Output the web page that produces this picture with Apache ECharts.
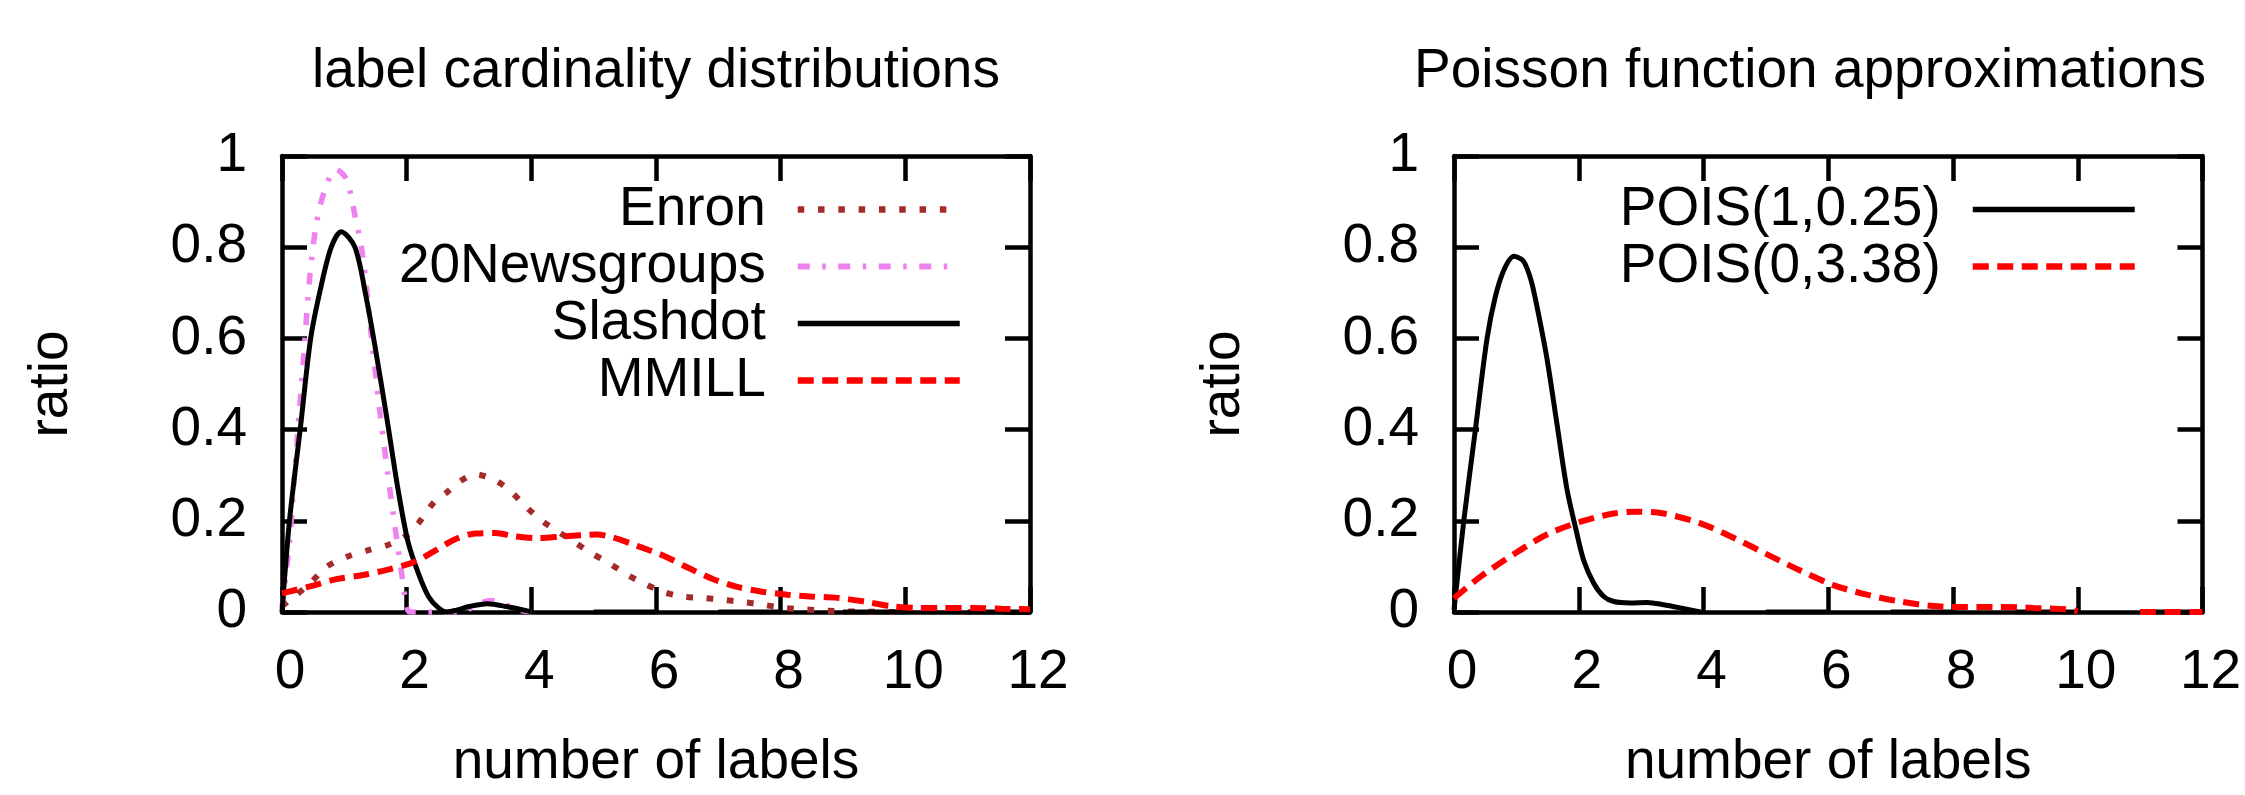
<!DOCTYPE html>
<html>
<head>
<meta charset="utf-8">
<script src="https://cdn.jsdelivr.net/npm/echarts@6/dist/echarts.min.js"></script>
<style>
  html, body { margin: 0; padding: 0; background: #fff; }
  #chart { width: 2245px; height: 795px; }
</style>
</head>
<body>
<div id="chart"></div>
<script>
// values, null = no line drawn there
const enronX = [0, 0.17, 0.46, 0.7, 1.04, 1.37, 1.72, 2.0, 2.19, 2.44, 2.65, 2.85, 3.1, 3.43, 3.68, 3.92, 4.17, 4.42, 4.68, 4.95, 5.24, 5.51, 5.8, 6.1, 6.42, 6.74, 7.06, 7.38, 7.71, 8.05, 8.37, 8.7, 9.2, 10]
const enronY = [0.013, 0.031, 0.064, 0.098, 0.121, 0.135, 0.148, 0.168, 0.195, 0.241, 0.263, 0.286, 0.302, 0.288, 0.263, 0.23, 0.2, 0.177, 0.154, 0.13, 0.108, 0.084, 0.063, 0.045, 0.034, 0.031, 0.027, 0.022, 0.016, 0.009, 0.006, 0.003, 0.001, 0]

const newsX = [0, 0.12, 0.2, 0.28, 0.36, 0.44, 0.55, 0.69, 0.87, 1.03, 1.17, 1.3, 1.43, 1.57, 1.7, 1.81, 1.92, 2.0, 2.05, 2.9, 3.1, 3.35, 3.6, 3.8, 4.0]
const newsY = [0.01, 0.155, 0.3, 0.44, 0.584, 0.727, 0.85, 0.927, 0.97, 0.95, 0.87, 0.777, 0.61, 0.44, 0.3, 0.19, 0.084, 0.013, 0, 0, 0.015, 0.025, 0.015, 0.004, 0]

const slashX = [0, 0.12, 0.3, 0.46, 0.62, 0.79, 0.95, 1.17, 1.35, 1.49, 1.68, 1.86, 2.02, 2.19, 2.35, 2.51, 2.65, 2.8, 3.0, 3.3, 3.6, 3.95, 4.0, 4.5, 5, 6, 6.5, 7, 8, 8.5, 9, 10, 10.5, 11, 12]
const slashY = [0, 0.2, 0.41, 0.6, 0.71, 0.8, 0.834, 0.8, 0.69, 0.584, 0.427, 0.27, 0.155, 0.084, 0.034, 0.009, 0, 0.004, 0.012, 0.018, 0.012, 0.002, 0, null, 0, 0, null, 0, 0, null, 0, 0, null, 0, 0]

const mmillX = [0, 0.5, 0.87, 1.3, 1.7, 2.11, 2.45, 2.77, 3.1, 3.42, 3.74, 4.12, 4.52, 5.05, 5.32, 5.7, 6.13, 6.5, 6.9, 7.3, 7.68, 8.11, 8.48, 8.91, 9.34, 9.77, 10.2, 10.62, 11.1, 11.54, 12]
const mmillY = [0.041, 0.058, 0.072, 0.081, 0.093, 0.109, 0.134, 0.159, 0.172, 0.173, 0.166, 0.162, 0.166, 0.17, 0.163, 0.145, 0.123, 0.098, 0.073, 0.055, 0.045, 0.038, 0.034, 0.031, 0.023, 0.013, 0.009, 0.009, 0.009, 0.007, 0.006]

const pois1X = [0, 0.157, 0.343, 0.53, 0.66, 0.8, 0.96, 1.11, 1.23, 1.33, 1.49, 1.65, 1.81, 1.95, 2.08, 2.24, 2.4, 2.56, 2.83, 3.1, 3.36, 3.63, 3.95, 4.5, 5, 6, 6.5, 7, 8, 8.5, 9, 10, 10.5, 11, 12]
const pois1Y = [0.005, 0.2, 0.4, 0.6, 0.69, 0.75, 0.78, 0.77, 0.73, 0.67, 0.556, 0.413, 0.27, 0.184, 0.113, 0.063, 0.034, 0.023, 0.02, 0.021, 0.016, 0.009, 0, null, 0, 0, null, 0, 0, null, 0, 0, null, 0, 0]

const pois2X = [0, 0.42, 0.96, 1.49, 2.03, 2.56, 2.93, 3.36, 3.94, 4.48, 5.01, 5.55, 6.08, 6.62, 7.15, 7.68, 8.22, 8.75, 9.29, 9.82, 10.0, 10.5, 11, 12]
const pois2Y = [0.03, 0.077, 0.127, 0.17, 0.198, 0.216, 0.22, 0.216, 0.195, 0.163, 0.127, 0.091, 0.059, 0.038, 0.023, 0.013, 0.011, 0.011, 0.009, 0.006, 0.002, null, 0, 0]

const xTicks = { min: 0, max: 12, interval: 2 }
const yTicks = { min: 0, max: 1, interval: 0.2 }

const FONT = 'Liberation Sans, Arial, sans-serif'
const FS = 55

function pts(xs, ys) {
  return xs.map((x, i) => [x, ys[i] === null ? '-' : ys[i]])
}

const lineAxis = { onZero: false, lineStyle: { color: '#000', width: 4.5 } }
const tick = { inside: true, length: 25, lineStyle: { color: '#000', width: 4.5 } }
const lbl = { fontSize: FS, fontFamily: FONT, color: '#000' }

function xAxes(gi) {
  return [
    {
      gridIndex: gi, type: 'value', position: 'bottom', ...xTicks,
      axisLine: lineAxis, axisTick: tick, splitLine: { show: false },
      axisLabel: { ...lbl, margin: 33, padding: [0, 0, 0, 16] },
      name: 'number of labels', nameLocation: 'middle', nameGap: 123,
      nameTextStyle: { ...lbl },
    },
    {
      gridIndex: gi, type: 'value', position: 'top', ...xTicks,
      axisLine: lineAxis, axisTick: tick, splitLine: { show: false },
      axisLabel: { show: false },
    },
  ]
}

function yAxes(gi) {
  return [
    {
      gridIndex: gi, type: 'value', position: 'left', ...yTicks,
      axisLine: lineAxis, axisTick: tick, splitLine: { show: false },
      axisLabel: { ...lbl, margin: 35 },
      name: 'ratio', nameLocation: 'middle', nameGap: 203,
      nameTextStyle: { ...lbl },
    },
    {
      gridIndex: gi, type: 'value', position: 'right', ...yTicks,
      axisLine: lineAxis, axisTick: tick, splitLine: { show: false },
      axisLabel: { show: false },
    },
  ]
}

function series(name, xi, yi, xs, ys, color, width, dash) {
  return {
    name: name, type: 'line', xAxisIndex: xi, yAxisIndex: yi,
    data: pts(xs, ys), symbol: 'none', smooth: 0.3,
    lineStyle: { color: color, width: width, type: dash },
    itemStyle: { color: color },
  }
}

const legendText = { fontSize: FS, fontFamily: FONT, color: '#000', lineHeight: 57, padding: [0, 27, 0, 0] }
const legendBase = {
  orient: 'vertical', align: 'right', top: 181, padding: 0,
  itemWidth: 162, itemHeight: 14, itemGap: 0, selectedMode: false,
  itemStyle: { opacity: 0 },
  textStyle: legendText,
}

const chart = echarts.init(document.getElementById('chart'))
chart.setOption({
  animation: false,
  backgroundColor: '#fff',
  grid: [
    { left: 282, top: 156, width: 748, height: 466.6 },
    { left: 1454, top: 156, width: 748.5, height: 466.6 },
  ],
  xAxis: [...xAxes(0), ...xAxes(1)],
  yAxis: [...yAxes(0), ...yAxes(1)],
  legend: [
    {
      ...legendBase, right: 1282,
      data: [
        { name: 'Enron', lineStyle: { width: 6.5 } },
        { name: '20Newsgroups', lineStyle: { width: 6 } },
        { name: 'Slashdot', lineStyle: { width: 5.5 } },
        { name: 'MMILL', lineStyle: { width: 6.5 } },
      ],
    },
    {
      ...legendBase, right: 107,
      data: [
        { name: 'POIS(1,0.25)', lineStyle: { width: 5.5 } },
        { name: 'POIS(0,3.38)', lineStyle: { width: 6.5 } },
      ],
    },
  ],
  graphic: [
    {
      type: 'text', x: 656, y: 72,
      style: { text: 'label cardinality distributions', fontSize: FS, fontFamily: FONT, fill: '#000',
        align: 'center', verticalAlign: 'middle', textAlign: 'center', textVerticalAlign: 'middle' },
    },
    {
      type: 'text', x: 1810, y: 72,
      style: { text: 'Poisson function approximations', fontSize: FS, fontFamily: FONT, fill: '#000',
        align: 'center', verticalAlign: 'middle', textAlign: 'center', textVerticalAlign: 'middle' },
    },
  ],
  series: [
    series('Enron', 0, 0, enronX, enronY, '#a52a2a', 6, [6.5, 13.8]),
    series('20Newsgroups', 0, 0, newsX, newsY, '#ee82ee', 5.5, [12, 12.5, 3.5, 12.5]),
    series('Slashdot', 0, 0, slashX, slashY, '#000000', 5, 'solid'),
    series('MMILL', 0, 0, mmillX, mmillY, '#ff0000', 6, [16, 8.5]),
    series('POIS(1,0.25)', 2, 2, pois1X, pois1Y, '#000000', 5, 'solid'),
    series('POIS(0,3.38)', 2, 2, pois2X, pois2Y, '#ff0000', 6, [16, 8.5]),
  ],
})
</script>
</body>
</html>
